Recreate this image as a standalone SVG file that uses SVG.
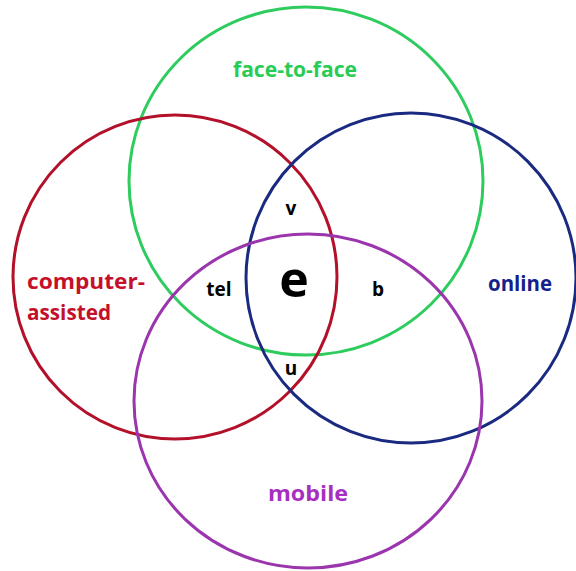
<svg xmlns="http://www.w3.org/2000/svg" width="576" height="571" viewBox="0 0 576 571">
<style>
.c{fill:none;stroke-width:3}
.lbl{font-family:"Open Sans","DejaVu Sans",sans-serif;font-weight:bold;font-size:21px}
.in{font-family:"Open Sans","DejaVu Sans",sans-serif;font-weight:bold;font-size:19px;fill:#000;text-anchor:middle}
</style>
<rect width="576" height="571" fill="#fff"/>
<g id="connectors"></g>
<g id="face-to-face">
<ellipse class="c" cx="306" cy="181" rx="177" ry="174" stroke="#2ecc5e"/>
<text class="lbl" x="233" y="77" textLength="124" lengthAdjust="spacingAndGlyphs" fill="#28cc55">face-to-face</text>
</g>
<g id="computer-assisted">
<circle class="c" cx="175" cy="277" r="162" stroke="#b3102a"/>
<text class="lbl" x="27" y="289" textLength="118" lengthAdjust="spacingAndGlyphs" fill="#c4102a">computer-</text>
<text class="lbl" x="27" y="320" textLength="84" lengthAdjust="spacingAndGlyphs" fill="#c4102a">assisted</text>
</g>
<g id="online">
<circle class="c" cx="411" cy="278" r="165" stroke="#1a2a80"/>
<text class="lbl" x="488" y="291" textLength="64" lengthAdjust="spacingAndGlyphs" fill="#14208c">online</text>
</g>
<g id="mobile">
<ellipse class="c" cx="308" cy="401" rx="174" ry="167" stroke="#9a35ae"/>
<text class="lbl" x="268" y="501" textLength="80" lengthAdjust="spacingAndGlyphs" fill="#a62fc0">mobile</text>
</g>
<g id="regions">
<text class="in" x="291" y="215">v</text>
<text class="in" x="219" y="296">tel</text>
<text class="in" x="294" y="297" style="font-size:50px">e</text>
<text class="in" x="378" y="296">b</text>
<text class="in" x="291" y="375">u</text>
</g>
</svg>
